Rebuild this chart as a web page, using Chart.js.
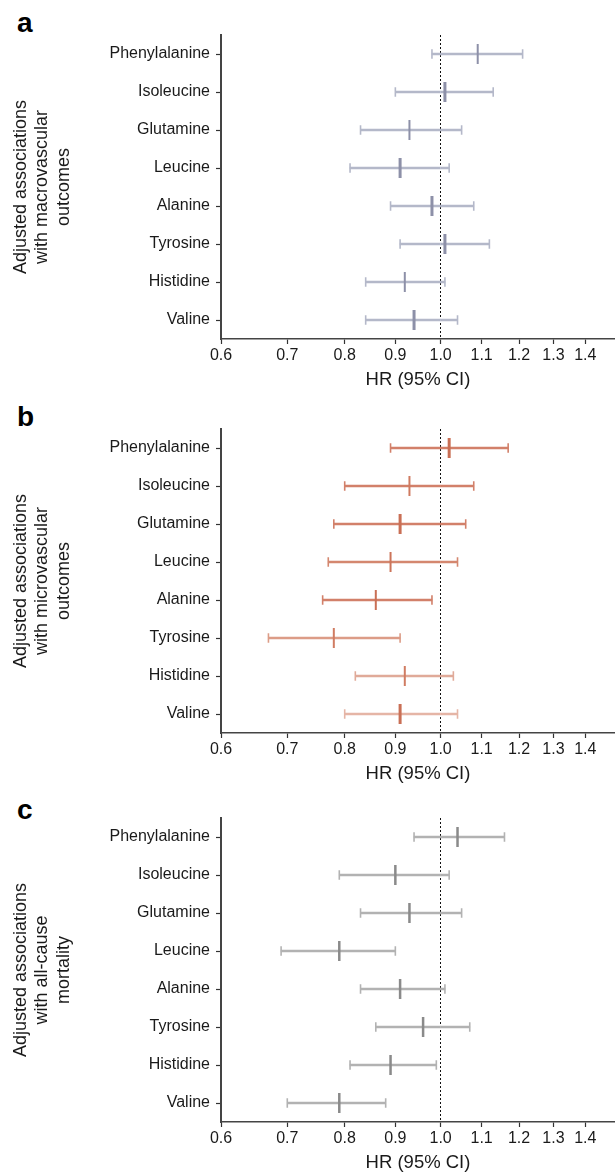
<!DOCTYPE html>
<html lang="en">
<head>
  <meta charset="UTF-8">
  <title>Amino acid HR forest plots</title>
  <script src="https://cdn.jsdelivr.net/npm/chart.js"></script>
  <style>
    body { margin: 0; background: #fff; }
    .wrap { position: relative; width: 615px; height: 1174px; overflow: hidden; }
    .wrap canvas { position: absolute; left: 0; }
    .letter { position: absolute; left: 17px; font: bold 28px "Liberation Sans", Arial, sans-serif; line-height: 28px; color: #000; }
  </style>
</head>
<body>
  <div class="wrap">
    <div class="letter" style="top: 9px;">a</div>
    <div class="letter" style="top: 403px;">b</div>
    <div class="letter" style="top: 796px;">c</div>
    <canvas id="panelA" width="615" height="391" style="top: 0px;"></canvas>
    <canvas id="panelB" width="615" height="394" style="top: 391px;"></canvas>
    <canvas id="panelC" width="615" height="389" style="top: 785px;"></canvas>
  </div>

  <script>
    const categories = ['Phenylalanine', 'Isoleucine', 'Glutamine', 'Leucine', 'Alanine', 'Tyrosine', 'Histidine', 'Valine'];
    const xTicks = [0.6, 0.7, 0.8, 0.9, 1.0, 1.1, 1.2, 1.3, 1.4];

    // macrovascular outcomes
    const macroHr = [1.09, 1.01, 0.93, 0.91, 0.98, 1.01, 0.92, 0.94];
    const macroLo = [0.98, 0.90, 0.83, 0.81, 0.89, 0.91, 0.84, 0.84];
    const macroHi = [1.21, 1.13, 1.05, 1.02, 1.08, 1.12, 1.01, 1.04];

    // microvascular outcomes
    const microHr = [1.02, 0.93, 0.91, 0.89, 0.86, 0.78, 0.92, 0.91];
    const microLo = [0.89, 0.80, 0.78, 0.77, 0.76, 0.67, 0.82, 0.80];
    const microHi = [1.17, 1.08, 1.06, 1.04, 0.98, 0.91, 1.03, 1.04];

    // all-cause mortality
    const mortHr = [1.04, 0.90, 0.93, 0.79, 0.91, 0.96, 0.89, 0.79];
    const mortLo = [0.94, 0.79, 0.83, 0.69, 0.83, 0.86, 0.81, 0.70];
    const mortHi = [1.16, 1.02, 1.05, 0.90, 1.01, 1.07, 0.99, 0.88];

    const FONT = '"Liberation Sans", Arial, sans-serif';

    function drawPanel(id, titleLines, lo, hr, hi, ciColor, estColor, estWidth, padTop) {
      new Chart(document.getElementById(id), {
        type: 'bar',
        data: {
          labels: categories,
          datasets: [
            {
              type: 'line', indexAxis: 'y', data: hr, showLine: false,
              pointStyle: 'line', rotation: 90, radius: 10, hoverRadius: 10,
              borderColor: estColor, borderWidth: estWidth
            },
            {
              type: 'line', indexAxis: 'y', data: lo, showLine: false,
              pointStyle: 'line', rotation: 90, radius: 4.7, hoverRadius: 4.7,
              borderColor: ciColor, borderWidth: 1.6
            },
            {
              type: 'line', indexAxis: 'y', data: hi, showLine: false,
              pointStyle: 'line', rotation: 90, radius: 4.7, hoverRadius: 4.7,
              borderColor: ciColor, borderWidth: 1.6
            },
            {
              data: lo.map((v, i) => [v, hi[i]]),
              backgroundColor: ciColor, borderWidth: 0, borderSkipped: false,
              barThickness: 2
            }
          ]
        },
        options: {
          indexAxis: 'y',
          responsive: false,
          animation: false,
          events: [],
          layout: { autoPadding: false, padding: { top: padTop, left: 0, right: 0, bottom: 0 } },
          plugins: { legend: { display: false }, tooltip: { enabled: false } },
          scales: {
            x: {
              type: 'logarithmic',
              min: 0.6,
              max: 1.5,
              afterBuildTicks: (scale) => { scale.ticks = xTicks.map(v => ({ value: v })); },
              afterFit: (scale) => {
                scale.height = 52;
                scale.paddingLeft = 0;
                scale.paddingRight = 0;
              },
              ticks: {
                autoSkip: false, maxRotation: 0, padding: 2,
                color: '#1a1a1a', font: { family: FONT, size: 16 },
                callback: (v) => Number(v).toFixed(1)
              },
              grid: {
                drawOnChartArea: true,
                color: (ctx) => (ctx.tick && Math.abs(ctx.tick.value - 1) < 1e-9) ? '#111' : 'rgba(0,0,0,0)',
                lineWidth: 1,
                tickColor: '#333', tickWidth: 1.2, tickLength: 5
              },
              border: { display: true, color: '#444', width: 1.5, dash: [2, 2] },
              title: {
                display: true, text: 'HR (95% CI)', color: '#1a1a1a',
                font: { family: FONT, size: 18.5 }, padding: { top: 4, bottom: 0 }
              }
            },
            y: {
              type: 'category',
              offset: true,
              afterFit: (scale) => { scale.width = 221; },
              ticks: { padding: 6, color: '#1a1a1a', font: { family: FONT, size: 16 } },
              grid: {
                drawOnChartArea: false, offset: false,
                tickColor: '#333', tickWidth: 1.2, tickLength: 5
              },
              border: { display: true, color: '#444', width: 2 },
              title: {
                display: true, text: titleLines, color: '#1a1a1a',
                font: { family: FONT, size: 18, lineHeight: 1.2 },
                padding: { top: 10, bottom: 0 }
              }
            }
          }
        }
      });
    }

    drawPanel('panelA', ['Adjusted associations', 'with macrovascular', 'outcomes'],
      macroLo, macroHr, macroHi, '#b4b8c9', '#8d90a8', [2, 3, 2, 3, 3, 3, 2, 3], 35);

    drawPanel('panelB', ['Adjusted associations', 'with microvascular', 'outcomes'],
      microLo, microHr, microHi,
      ['#d2806a', '#d2806a', '#d2806a', '#d4876f', '#d2806a', '#dc9c87', '#e0aa99', '#e5b5a6'],
      ['#c96f55', '#cf7a60', '#c96f55', '#cc7459', '#c96f55', '#d07c62', '#d07c62', '#c96f55'],
      [3, 2, 3, 2, 2, 2, 2, 3], 38);

    drawPanel('panelC', ['Adjusted associations', 'with all-cause', 'mortality'],
      mortLo, mortHr, mortHi, '#b2b2b2', '#8a8a8a', 2.5, 33);
  </script>
</body>
</html>
